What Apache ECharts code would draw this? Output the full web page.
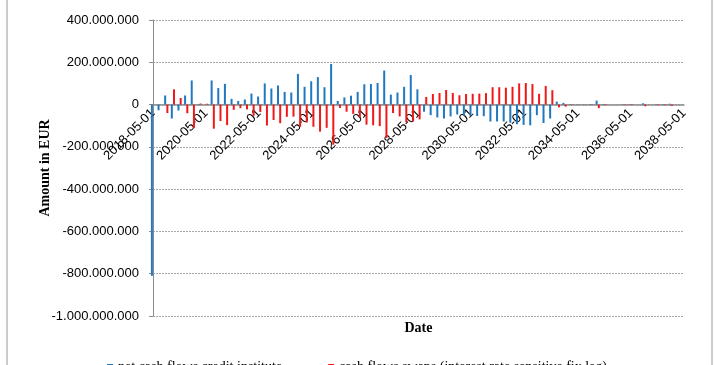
<!DOCTYPE html>
<html><head><meta charset="utf-8">
<script src="https://cdn.jsdelivr.net/npm/echarts@6/dist/echarts.min.js"></script>
<style>html,body{margin:0;padding:0;background:#fff}#c{width:714px;height:365px}</style>
</head><body><div id="c"></div>
<script>
// quarterly payment dates 2018-05-01 ... 2038-05-01
var startYear = 2018, quarters = 81;
var categories = [];
for (var q = 0; q < quarters; q++) {
  var m = 5 + 3 * q, y = startYear + Math.floor((m - 1) / 12), mm = ((m - 1) % 12) + 1;
  categories.push(y + '-' + (mm < 10 ? '0' : '') + mm + '-01');
}
// values in millions EUR
var netCashFlowsCreditInstitute = [
  -810, -27, 43, -66, -28, 43, 114, -3, 0, 114,
  78, 98, 27, 17, 24, 52, 38, 100, 76, 90,
  60, 57, 145, 84, 110, 130, 82, 192, 17, 34,
  42, 60, 96, 97, 102, 161, 47, 57, 84, 140,
  72, -34, -50, -61, -66, -56, -47, -52, -52, -54,
  -55, -80, -80, -80, -86, -93, -96, -98, -50, -87,
  -66, 14, 8, 2, 1, 1, 2, 19, 3, 0,
  0, 2, 2, 0, 6, 0, 2, 2, 4, 0, 0
];
var cashFlowsSwaps = [
  0, 0, -40, 72, 31, -41, -111, 5, 4, -114,
  -78, -97, -25, -17, -23, -53, -35, -99, -73, -88,
  -58, -57, -105, -85, -105, -128, -110, -190, -16, -34,
  -44, -59, -95, -98, -102, -158, -40, -56, -84, -80,
  -70, 36, 50, 55, 69, 55, 44, 50, 51, 52,
  54, 82, 82, 80, 84, 100, 102, 97, 51, 88,
  68, -13, -10, -2, -1, -1, -2, -17, -3, 0,
  0, -2, -2, 0, -8, 0, -3, -3, -6, 0, 0
];
var yTicks = { min: -1000000000, max: 400000000, interval: 200000000 };
var seriesNames = ['net cash flows credit institute', 'cash flows swaps (interest rate sensitive fix leg)'];

function toEur(arr) { return arr.map(function (v) { return v * 1000000; }); }
function fmt(v) {
  var s = Math.abs(v).toString().replace(/\B(?=(\d{3})+(?!\d))/g, '.');
  return (v < 0 ? '-' : '') + s;
}

var chart = echarts.init(document.getElementById('c'), null, { renderer: 'canvas' });
chart.setOption({
  animation: false,
  backgroundColor: '#fff',
  graphic: [{ type: 'rect', shape: { x: 7, y: -5, width: 705, height: 380 }, style: { fill: 'none', stroke: '#9a9a9a', lineWidth: 1 }, silent: true }],
  grid: { left: 153, right: 30, top: 20, bottom: 49, containLabel: false, outerBoundsMode: 'none' },
  legend: {
    bottom: -14, left: 'center', itemWidth: 6, itemHeight: 6, itemGap: 46, icon: 'rect',
    textStyle: { fontFamily: 'Liberation Serif', fontSize: 14, color: '#000' },
    data: seriesNames
  },
  xAxis: {
    type: 'category', data: categories, boundaryGap: false, position: 'bottom', offset: -211,
    name: 'Date', nameLocation: 'middle', nameGap: 216, nameMoveOverlap: false,
    nameTextStyle: { fontFamily: 'Liberation Serif', fontWeight: 'bold', fontSize: 14, color: '#000' },
    axisLine: { onZero: false, lineStyle: { color: '#8c8c8c', width: 1.5 } },
    axisTick: { show: false },
    axisLabel: { interval: 7, rotate: 45, fontFamily: 'Liberation Sans', fontSize: 13, color: '#000', margin: 6 }
  },
  yAxis: {
    type: 'value', min: yTicks.min, max: yTicks.max, interval: yTicks.interval,
    name: 'Amount in EUR', nameLocation: 'middle', nameGap: 101, nameMoveOverlap: false,
    nameTextStyle: { fontFamily: 'Liberation Serif', fontWeight: 'bold', fontSize: 14, color: '#000' },
    axisLine: { show: true, lineStyle: { color: '#8c8c8c', width: 1 } },
    axisTick: { show: true, length: 4, lineStyle: { color: '#8c8c8c' } },
    splitLine: { lineStyle: { color: '#a8a8a8', type: [2, 1], width: 1 } },
    axisLabel: { formatter: fmt, fontFamily: 'Liberation Sans', fontSize: 13, color: '#000', margin: 14 }
  },
  series: [
    { name: seriesNames[0], type: 'bar', data: toEur(netCashFlowsCreditInstitute), barWidth: 2, barGap: '10%', clip: false,
      itemStyle: { color: '#1F78C0' } },
    { name: seriesNames[1], type: 'bar', data: toEur(cashFlowsSwaps), barWidth: 2, clip: false,
      itemStyle: { color: '#F01818' } }
  ]
});
</script></body></html>
